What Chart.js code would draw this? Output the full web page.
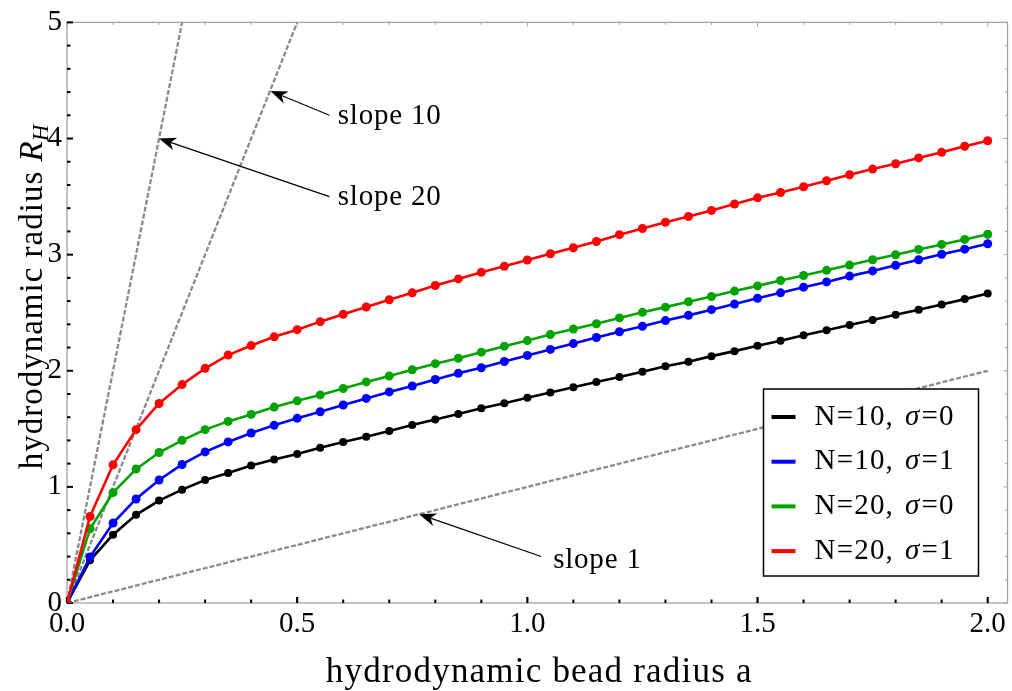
<!DOCTYPE html>
<html>
<head>
<meta charset="utf-8">
<script src="https://cdn.jsdelivr.net/npm/chart.js@4.4.1/dist/chart.umd.min.js"></script>
<style>
  html, body { margin: 0; padding: 0; background: #fff; }
  #wrap { width: 1012px; height: 691px; }
</style>
</head>
<body>
<div id="wrap"><canvas id="rh" width="1012" height="691"></canvas></div>
<script>
// bead radius a, sampled every 0.05
const beadRadius = [0, 0.05, 0.1, 0.15, 0.2, 0.25, 0.3, 0.35, 0.4, 0.45, 0.5,
  0.55, 0.6, 0.65, 0.7, 0.75, 0.8, 0.85, 0.9, 0.95, 1.0,
  1.05, 1.1, 1.15, 1.2, 1.25, 1.3, 1.35, 1.4, 1.45, 1.5,
  1.55, 1.6, 1.65, 1.7, 1.75, 1.8, 1.85, 1.9, 1.95, 2.0];

// hydrodynamic radius R_H for each chain
const rhN10s0 = [0, 0.368, 0.588, 0.759, 0.882, 0.976, 1.059, 1.120, 1.184, 1.236, 1.284,
  1.336, 1.387, 1.432, 1.481, 1.533, 1.581, 1.627, 1.678, 1.721, 1.767,
  1.812, 1.858, 1.903, 1.946, 1.992, 2.038, 2.078, 2.126, 2.169, 2.215,
  2.258, 2.306, 2.349, 2.394, 2.437, 2.483, 2.526, 2.571, 2.617, 2.665];
const rhN10s1 = [0, 0.397, 0.688, 0.896, 1.059, 1.193, 1.301, 1.387, 1.464, 1.530, 1.590,
  1.647, 1.705, 1.762, 1.818, 1.869, 1.925, 1.978, 2.026, 2.080, 2.132,
  2.184, 2.234, 2.286, 2.336, 2.383, 2.432, 2.477, 2.526, 2.574, 2.624,
  2.671, 2.720, 2.765, 2.815, 2.860, 2.908, 2.956, 3.003, 3.047, 3.094];
const rhN20s0 = [0, 0.639, 0.950, 1.153, 1.296, 1.401, 1.493, 1.564, 1.624, 1.687, 1.741,
  1.792, 1.847, 1.904, 1.955, 2.009, 2.061, 2.108, 2.160, 2.212, 2.260,
  2.312, 2.360, 2.405, 2.455, 2.503, 2.548, 2.594, 2.640, 2.686, 2.731,
  2.777, 2.820, 2.865, 2.910, 2.956, 2.999, 3.045, 3.088, 3.131, 3.176];
const rhN20s1 = [0, 0.745, 1.190, 1.493, 1.718, 1.881, 2.021, 2.135, 2.217, 2.292, 2.354,
  2.423, 2.486, 2.549, 2.612, 2.671, 2.734, 2.791, 2.848, 2.900, 2.954,
  3.008, 3.059, 3.113, 3.172, 3.225, 3.279, 3.328, 3.381, 3.436, 3.489,
  3.535, 3.585, 3.636, 3.688, 3.737, 3.783, 3.833, 3.881, 3.933, 3.981];

// reference lines R_H = slope * a
const slope1 = [[0, 0], [2.0, 2.0]];
const slope10 = [[0, 0], [0.5, 5]];
const slope20 = [[0, 0], [0.25, 5]];

const xTicks = [0, 0.5, 1.0, 1.5, 2.0];
const yTicks = [0, 1, 2, 3, 4, 5];

const seriesNames = ['N=10', 'N=10', 'N=20', 'N=20'];
const sigmaValues = ['0', '1', '0', '1'];
const seriesColors = ['#000000', '#0000ff', '#00a300', '#ff0000'];

// labelled arrows: tip on the line, tail next to the text
const callouts = [
  { text: 'slope 10', tip: [0.442, 4.41], tail: [0.570, 4.20], at: [0.588, 4.19] },
  { text: 'slope 20', tip: [0.200, 4.00], tail: [0.570, 3.50], at: [0.588, 3.49] },
  { text: 'slope 1',  tip: [0.765, 0.765], tail: [1.030, 0.40], at: [1.056, 0.37] }
];

const SERIF = '"Liberation Serif", "DejaVu Serif", serif';

function toPoints(ys) {
  return ys.map((v, i) => ({ x: beadRadius[i], y: v }));
}
function toPairs(pairs) {
  return pairs.map(p => ({ x: p[0], y: p[1] }));
}

const rhSeries = [rhN10s0, rhN10s1, rhN20s0, rhN20s1];

const datasets = rhSeries.map((ys, i) => ({
  data: toPoints(ys),
  borderColor: seriesColors[i],
  backgroundColor: seriesColors[i],
  borderWidth: 2.6,
  pointRadius: i === 0 ? 4 : 4.5,
  pointBorderWidth: 0,
  showLine: true,
  tension: 0,
  order: 4 - i
}));
[slope1, slope10, slope20].forEach(line => {
  datasets.push({
    data: toPairs(line),
    borderColor: '#8a8a8a',
    borderWidth: 2.3,
    borderDash: [5, 2],
    pointRadius: 0,
    showLine: true,
    order: 10
  });
});

// box, inward ticks on all four sides
const framePlugin = {
  id: 'frame',
  beforeDatasetsDraw(chart) {
    const { ctx, chartArea: a, scales: { x, y } } = chart;
    ctx.save();
    ctx.strokeStyle = '#a3a3a3';
    ctx.lineWidth = 1.3;
    ctx.strokeRect(a.left, a.top, a.right - a.left, a.bottom - a.top);

    for (let i = 0; i <= 20; i++) {
      const px = x.getPixelForValue(i / 10);
      const major = i % 5 === 0;
      ctx.strokeStyle = '#000';
      ctx.lineWidth = major ? 2.2 : 2;
      ctx.beginPath();
      ctx.moveTo(px, a.bottom);
      ctx.lineTo(px, a.bottom - (major ? 6 : 3.5));
      ctx.stroke();
      ctx.strokeStyle = '#a3a3a3';
      ctx.lineWidth = 1;
      ctx.beginPath();
      ctx.moveTo(px, a.top);
      ctx.lineTo(px, a.top + (major ? 4 : 2.5));
      ctx.stroke();
    }
    for (let i = 0; i <= 25; i++) {
      const py = y.getPixelForValue(i / 5);
      const major = i % 5 === 0;
      ctx.strokeStyle = '#000';
      ctx.lineWidth = 2;
      ctx.beginPath();
      ctx.moveTo(a.left, py);
      ctx.lineTo(a.left + (major ? 6 : 3.5), py);
      ctx.stroke();
      ctx.strokeStyle = '#a3a3a3';
      ctx.lineWidth = 1;
      ctx.beginPath();
      ctx.moveTo(a.right, py);
      ctx.lineTo(a.right - (major ? 4 : 2.5), py);
      ctx.stroke();
    }
    ctx.restore();
  }
};

function drawArrow(ctx, x0, y0, x1, y1) {
  const ang = Math.atan2(y1 - y0, x1 - x0);
  const len = 17, half = 6.5, notch = 12;
  ctx.beginPath();
  ctx.moveTo(x0, y0);
  ctx.lineTo(x1 - Math.cos(ang) * notch, y1 - Math.sin(ang) * notch);
  ctx.stroke();
  ctx.save();
  ctx.translate(x1, y1);
  ctx.rotate(ang);
  ctx.beginPath();
  ctx.moveTo(0, 0);
  ctx.lineTo(-len, -half);
  ctx.lineTo(-notch, 0);
  ctx.lineTo(-len, half);
  ctx.closePath();
  ctx.fill();
  ctx.restore();
}

const decorPlugin = {
  id: 'decor',
  afterDatasetsDraw(chart) {
    const { ctx, chartArea: a, scales: { x, y } } = chart;
    ctx.save();

    // callouts
    ctx.strokeStyle = '#000';
    ctx.fillStyle = '#000';
    ctx.lineWidth = 1.2;
    ctx.font = '29px ' + SERIF;
    ctx.letterSpacing = '0.8px';
    ctx.textBaseline = 'middle';
    ctx.textAlign = 'left';
    callouts.forEach(c => {
      drawArrow(ctx,
        x.getPixelForValue(c.tail[0]), y.getPixelForValue(c.tail[1]),
        x.getPixelForValue(c.tip[0]), y.getPixelForValue(c.tip[1]));
      ctx.fillText(c.text, x.getPixelForValue(c.at[0]), y.getPixelForValue(c.at[1]));
    });

    // legend box
    const bx = a.right - 244, by = a.bottom - 214, bw = 215, bh = 187;
    ctx.fillStyle = '#fff';
    ctx.fillRect(bx, by, bw, bh);
    ctx.strokeStyle = '#000';
    ctx.lineWidth = 1.5;
    ctx.strokeRect(bx, by, bw, bh);
    ctx.letterSpacing = '1.2px';
    seriesNames.forEach((name, i) => {
      const ry = by + 28 + i * 44.7;
      ctx.strokeStyle = seriesColors[i];
      ctx.lineWidth = 4;
      ctx.beginPath();
      ctx.moveTo(bx + 8, ry);
      ctx.lineTo(bx + 32, ry);
      ctx.stroke();
      ctx.fillStyle = '#000';
      let tx = bx + 51;
      ctx.font = '29px ' + SERIF;
      ctx.fillText(name + ',', tx, ry);
      tx += ctx.measureText(name + ',').width + 11;
      ctx.font = 'italic 29px ' + SERIF;
      ctx.fillText('\u03c3', tx, ry);
      tx += ctx.measureText('\u03c3').width + 1;
      ctx.font = '29px ' + SERIF;
      ctx.fillText('=' + sigmaValues[i], tx, ry);
    });

    // x title
    ctx.textBaseline = 'alphabetic';
    ctx.textAlign = 'center';
    ctx.letterSpacing = '1.2px';
    ctx.font = '35px ' + SERIF;
    ctx.fillText('hydrodynamic bead radius a', (a.left + a.right) / 2 + 2, 682);

    // rotated y title with italic R_H
    ctx.textAlign = 'left';
    ctx.letterSpacing = '1px';
    ctx.translate(31, 296);
    ctx.rotate(-Math.PI / 2);
    const plain = 'hydrodynamic radius ';
    ctx.font = '33px ' + SERIF;
    const w1 = ctx.measureText(plain).width;
    ctx.font = 'italic 33px ' + SERIF;
    const w2 = ctx.measureText('R').width;
    ctx.font = 'italic 23px ' + SERIF;
    const w3 = ctx.measureText('H').width;
    let sx = -(w1 + w2 + w3) / 2;
    ctx.font = '33px ' + SERIF;
    ctx.fillText(plain, sx, 11);
    sx += w1;
    ctx.font = 'italic 33px ' + SERIF;
    ctx.fillText('R', sx, 11);
    sx += w2;
    ctx.font = 'italic 23px ' + SERIF;
    ctx.fillText('H', sx - 1, 17);
    ctx.restore();
  }
};

new Chart(document.getElementById('rh'), {
  type: 'scatter',
  data: { datasets },
  options: {
    responsive: false,
    animation: false,
    layout: { padding: { top: 19, right: 1, left: 0, bottom: 0 } },
    plugins: { legend: { display: false }, tooltip: { enabled: false } },
    scales: {
      x: {
        type: 'linear',
        min: 0,
        max: 2.043,
        afterBuildTicks: s => { s.ticks = xTicks.map(v => ({ value: v })); },
        afterFit: s => { s.height = 88; },
        grid: { display: false, drawTicks: false },
        border: { display: false },
        ticks: {
          color: '#000',
          padding: 4,
          maxRotation: 0,
          font: { family: SERIF, size: 29 },
          callback: v => v.toFixed(1)
        }
      },
      y: {
        type: 'linear',
        min: 0,
        max: 5,
        afterBuildTicks: s => { s.ticks = yTicks.map(v => ({ value: v })); },
        afterFit: s => { s.width = 67; },
        grid: { display: false, drawTicks: false },
        border: { display: false },
        ticks: {
          color: '#000',
          padding: 5,
          font: { family: SERIF, size: 29 },
          callback: v => String(v)
        }
      }
    }
  },
  plugins: [framePlugin, decorPlugin]
});
</script>
</body>
</html>
